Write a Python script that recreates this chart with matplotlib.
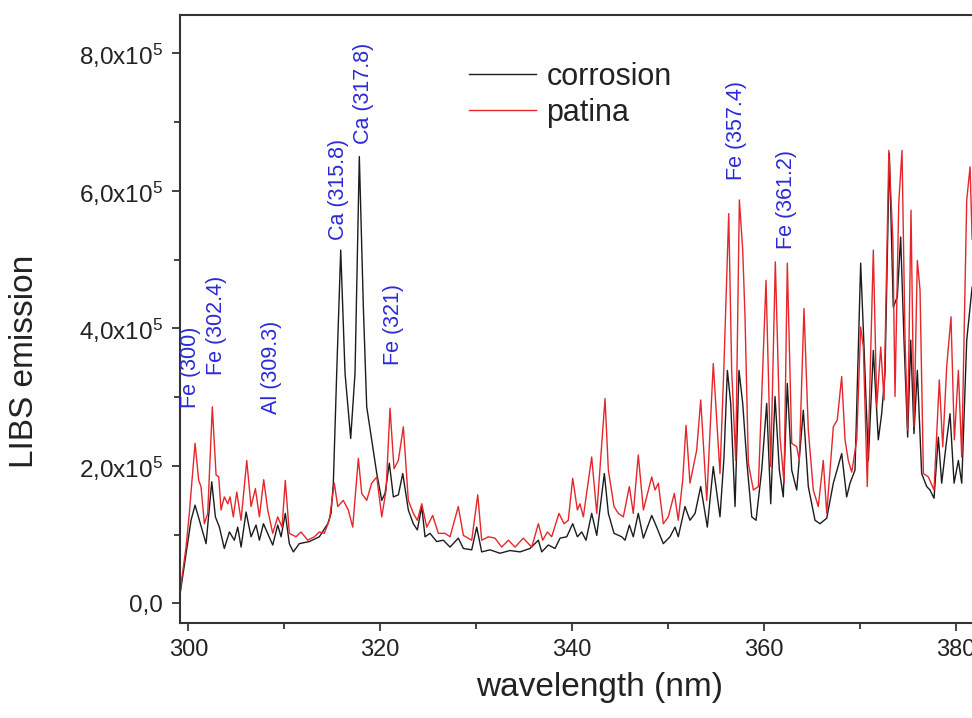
import matplotlib
matplotlib.use("Agg")
import matplotlib.pyplot as plt
from matplotlib.ticker import MultipleLocator, FixedLocator, FixedFormatter

plt.rcParams["font.family"] = ["Liberation Sans", "DejaVu Sans"]
plt.rcParams["mathtext.fontset"] = "custom"
plt.rcParams["mathtext.rm"] = "Liberation Sans"
plt.rcParams["mathtext.it"] = "Liberation Sans:italic"

# LIBS spectra (wavelength in nm, intensity in 1e5 counts)
corrosion_nm = [
    299.13, 299.76, 300.28, 300.70, 301.15, 301.85, 302.44, 302.82, 303.24, 303.75,
    304.28, 304.80, 305.15, 305.50, 306.02, 306.54, 307.06, 307.41, 307.83, 308.80,
    309.32, 309.67, 310.11, 310.53, 310.95, 311.57, 312.62, 313.66, 314.54, 314.88,
    315.12, 315.47, 315.89, 316.34, 316.93, 317.38, 317.83, 318.25, 318.60, 319.12,
    319.65, 320.17, 320.51, 320.96, 321.38, 321.90, 322.36, 322.94, 323.46, 323.88,
    324.34, 324.68, 325.20, 325.90, 326.59, 327.29, 328.15, 328.68, 329.55, 330.07,
    330.59, 331.46, 332.50, 333.54, 334.59, 335.63, 336.50, 336.85, 337.54, 338.24,
    338.76, 339.46, 340.08, 340.57, 341.02, 341.47, 342.06, 342.59, 343.38, 343.80,
    344.39, 345.19, 345.54, 345.99, 346.40, 346.92, 347.45, 348.32, 348.84, 349.53,
    350.23, 350.75, 351.09, 351.79, 352.31, 352.84, 353.43, 354.12, 354.74, 355.44,
    355.86, 356.21, 356.56, 357.01, 357.42, 357.81, 358.23, 358.75, 359.20, 359.79,
    360.31, 360.73, 361.18, 361.63, 362.04, 362.46, 362.92, 363.44, 364.13, 364.65,
    365.35, 365.87, 366.57, 367.26, 368.13, 368.65, 369.00, 369.52, 370.11, 370.46,
    370.91, 371.43, 371.95, 372.30, 372.65, 373.10, 373.51, 373.93, 374.28, 374.63,
    375.01, 375.33, 375.67, 376.02, 376.47, 377.00, 377.34, 377.76, 378.21, 378.56,
    379.08, 379.43, 379.85, 380.30, 380.65, 381.17, 381.52, 381.73,
]
corrosion_int = [
    0.13, 0.72, 1.21, 1.43, 1.21, 0.87, 1.77, 1.26, 1.11, 0.80,
    1.04, 0.92, 1.11, 0.82, 1.33, 0.97, 1.14, 0.92, 1.16, 0.85,
    1.14, 0.97, 1.31, 0.87, 0.75, 0.87, 0.90, 0.97, 1.16, 1.31,
    1.75, 3.35, 5.14, 3.35, 2.40, 3.35, 6.50, 4.31, 2.86, 2.38,
    1.89, 1.50, 1.60, 2.04, 1.55, 1.58, 1.89, 1.36, 1.16, 1.07,
    1.41, 0.97, 1.02, 0.90, 0.92, 0.82, 0.95, 0.80, 0.78, 1.11,
    0.75, 0.78, 0.73, 0.77, 0.75, 0.80, 0.92, 0.75, 0.85, 0.80,
    0.95, 0.97, 1.16, 0.97, 1.04, 0.92, 1.31, 0.99, 1.89, 1.31,
    1.02, 0.97, 0.92, 1.14, 0.97, 1.31, 0.95, 1.28, 1.11, 0.87,
    0.97, 1.11, 0.97, 1.41, 1.21, 1.31, 1.70, 1.11, 1.99, 1.26,
    2.13, 3.39, 2.91, 1.41, 3.39, 2.91, 2.08, 1.26, 1.21, 1.94,
    2.91, 1.45, 3.01, 1.94, 1.55, 3.20, 1.94, 1.65, 2.81, 1.70,
    1.21, 1.16, 1.24, 1.75, 2.18, 1.55, 1.75, 1.94, 4.95, 3.73,
    2.08, 3.68, 2.38, 2.76, 3.35, 6.55, 4.31, 4.46, 5.33, 3.83,
    2.42, 3.83, 2.47, 3.39, 1.89, 1.70, 1.65, 1.53, 2.42, 1.75,
    2.38, 2.76, 1.75, 2.08, 1.75, 3.83, 4.31, 4.60,
]

patina_nm = [
    299.13, 299.76, 300.10, 300.70, 301.08, 301.32, 301.67, 302.02, 302.50, 302.89,
    303.17, 303.41, 303.75, 304.11, 304.35, 304.69, 305.05, 305.50, 306.09, 306.54,
    306.99, 307.41, 307.86, 308.28, 308.80, 309.32, 309.77, 310.11, 310.53, 311.23,
    311.75, 312.45, 313.14, 313.66, 314.18, 314.70, 315.22, 315.58, 316.16, 316.68,
    317.14, 317.73, 318.08, 318.60, 319.12, 319.65, 320.17, 320.62, 321.03, 321.45,
    321.90, 322.42, 322.94, 323.46, 323.88, 324.34, 324.86, 325.48, 326.07, 326.77,
    327.29, 328.15, 328.68, 329.55, 330.18, 330.59, 331.28, 331.98, 332.68, 333.37,
    334.07, 334.93, 335.81, 336.50, 336.95, 337.44, 337.89, 338.65, 339.18, 339.62,
    340.08, 340.57, 340.84, 341.19, 342.06, 342.59, 343.45, 343.80, 344.39, 344.84,
    345.36, 345.99, 346.40, 346.92, 347.45, 348.32, 348.67, 349.01, 349.53, 350.05,
    350.68, 351.09, 351.55, 351.90, 352.31, 353.01, 353.43, 354.06, 354.74, 355.44,
    355.86, 356.35, 356.66, 357.08, 357.46, 357.81, 358.05, 358.40, 358.92, 359.44,
    360.24, 360.73, 361.21, 361.70, 362.12, 362.46, 362.92, 363.44, 363.71, 364.20,
    364.65, 365.17, 365.69, 366.21, 366.57, 367.26, 367.67, 368.13, 368.48, 368.82,
    369.18, 369.70, 370.11, 370.39, 370.80, 371.43, 371.79, 372.20, 372.55, 373.05,
    373.47, 373.69, 374.08, 374.42, 374.74, 375.01, 375.36, 375.67, 376.02, 376.30,
    376.65, 377.17, 377.76, 378.31, 378.67, 379.08, 379.53, 379.88, 380.30, 380.65,
    381.17, 381.52, 381.73,
]
patina_int = [
    0.17, 0.82, 1.31, 2.33, 1.79, 1.70, 1.16, 1.31, 2.86, 1.87,
    1.84, 1.36, 1.55, 1.45, 1.55, 1.26, 1.62, 1.21, 2.08, 1.41,
    1.67, 1.26, 1.80, 1.36, 1.02, 1.26, 1.11, 1.79, 1.02, 0.97,
    1.04, 0.92, 0.97, 1.04, 1.02, 1.21, 1.75, 1.41, 1.50, 1.36,
    1.11, 2.11, 1.60, 1.50, 1.75, 1.84, 1.26, 1.65, 2.84, 1.96,
    2.08, 2.57, 1.50, 1.31, 1.21, 1.45, 1.11, 1.28, 1.02, 1.02,
    0.97, 1.41, 0.99, 0.92, 1.58, 0.92, 0.97, 0.95, 0.82, 0.92,
    0.82, 0.95, 0.82, 1.16, 0.92, 1.04, 0.97, 1.31, 1.16, 1.21,
    1.82, 1.36, 1.45, 1.26, 2.13, 1.31, 2.98, 1.94, 1.41, 1.31,
    1.26, 1.70, 1.31, 2.16, 1.36, 1.84, 1.65, 1.75, 1.16, 1.26,
    1.60, 1.21, 1.79, 2.59, 1.75, 2.23, 2.96, 1.50, 3.49, 1.89,
    3.49, 5.67, 3.39, 2.08, 5.87, 5.14, 4.17, 2.04, 1.65, 1.70,
    4.70, 1.99, 4.97, 2.42, 1.75, 4.95, 2.33, 2.28, 2.08, 4.29,
    2.52, 1.65, 1.41, 2.08, 1.31, 2.57, 2.67, 3.30, 2.38, 2.08,
    1.91, 2.38, 4.02, 3.73, 1.70, 5.14, 2.86, 3.73, 2.96, 6.59,
    5.28, 3.01, 5.82, 6.59, 3.83, 2.52, 5.72, 2.57, 4.99, 4.56,
    1.89, 1.84, 1.65, 3.25, 2.28, 3.44, 4.17, 2.38, 3.39, 2.13,
    5.87, 6.35, 5.30,
]

# line assignments: label, x (nm), y of the text foot (1e5 counts)
line_labels = ["Fe (300)", "Fe (302.4)", "Al (309.3)", "Ca (315.8)", "Ca (317.8)",
               "Fe (321)", "Fe (357.4)", "Fe (361.2)"]
line_x = [300.18, 302.96, 308.70, 315.65, 318.25, 321.38, 357.18, 362.40]
line_y = [2.84, 3.32, 2.76, 5.28, 6.69, 3.47, 6.16, 5.16]

y_ticks = [0, 2, 4, 6, 8]
y_tick_labels = ["0,0", "2,0x10$^5$", "4,0x10$^5$", "6,0x10$^5$", "8,0x10$^5$"]

TEXT = "#222222"
BLUE = "#2b2bd6"

fig = plt.figure(figsize=(9.72, 7.18), dpi=100)
ax = fig.add_axes([180 / 972, 95.3 / 718, 792 / 972, 607.7 / 718])

ax.plot(corrosion_nm, corrosion_int, color="#1c1c1c", lw=1.0, label="corrosion")
ax.plot(patina_nm, patina_int, color="#e5262b", lw=1.0, label="patina")

for lab, x, y in zip(line_labels, line_x, line_y):
    ax.text(x, y, lab, rotation=90, ha="center", va="bottom",
            color=BLUE, fontsize=15.5)

ax.set_xlim(299.13, 381.72)
ax.set_ylim(-0.28, 8.56)

ax.xaxis.set_major_locator(MultipleLocator(20))
ax.xaxis.set_minor_locator(MultipleLocator(10))
ax.yaxis.set_major_locator(FixedLocator(y_ticks))
ax.yaxis.set_major_formatter(FixedFormatter(y_tick_labels))
ax.yaxis.set_minor_locator(MultipleLocator(1))

ax.tick_params(which="major", direction="out", length=6, width=1.2,
               labelsize=17, colors=TEXT, pad=6)
ax.tick_params(which="minor", direction="out", length=4, width=1.2, colors=TEXT)
ax.tick_params(axis="y", which="both", labelsize=17.5)

for side in ["left", "bottom", "top"]:
    ax.spines[side].set_linewidth(1.5)
    ax.spines[side].set_color("#333333")
ax.spines["right"].set_visible(False)

ax.set_xlabel("wavelength (nm)", fontsize=24, color=TEXT)
ax.set_ylabel("LIBS emission", fontsize=24, color=TEXT)
ax.xaxis.label.set_va("center")
ax.yaxis.label.set_va("center")
ax.xaxis.set_label_coords(0.53, -0.107)
ax.yaxis.set_label_coords(-0.196, 0.43)

leg = ax.legend(loc="upper left", bbox_to_anchor=(0.349, 0.9435), frameon=False,
                fontsize=22, handlelength=2.2, handletextpad=0.35,
                labelspacing=0.2, borderaxespad=0)
for t in leg.get_texts():
    t.set_color(TEXT)

fig.savefig("out.png", dpi=100)
